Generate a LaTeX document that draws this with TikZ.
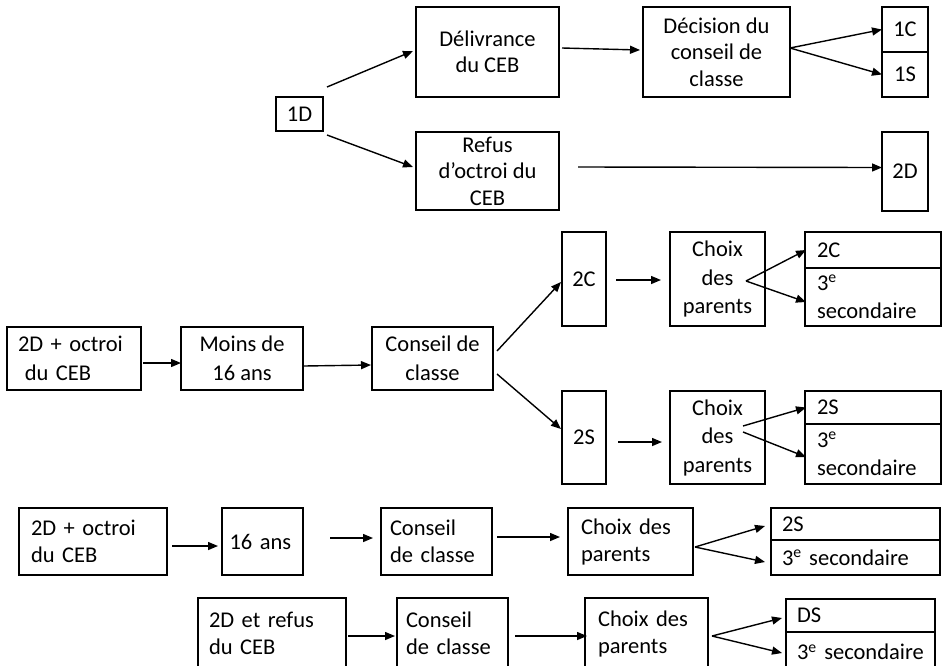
\documentclass[tikz,border=0pt]{standalone}
\usepackage{fontspec}
\setmainfont{Carlito}
\usetikzlibrary{arrows.meta,calc}
\begin{document}
\begin{tikzpicture}[x=1pt,y=-1pt,
  bx/.style={draw, line width=1.1pt, inner sep=0pt, outer sep=0pt, anchor=north west, align=center, font=\fontsize{22.5}{26.5}\selectfont},
  midf/.style={font=\fontsize{22.5}{28.5}\selectfont},
  lowf/.style={font=\fontsize{22.5}{27}\selectfont},
  ar/.style={line width=1.4pt, -{Triangle[length=10pt,width=8pt]}},
  ]
\useasboundingbox (0,0) rectangle (942,665);
\clip (0,0) rectangle (942,665);
% ---------- top section ----------
\node[bx, minimum width=47, minimum height=34] (n1D) at (276,97) {1D};
\node[bx, minimum width=143, minimum height=90] (deliv) at (416,7) {Délivrance\\du CEB};
\node[bx, minimum width=143, minimum height=78] (refus) at (416,132) {Refus\\d’octroi du\\CEB};
\node[bx, minimum width=147, minimum height=90] (decis) at (643,7) {Décision du\\conseil de\\classe};
\node[bx, minimum width=46, minimum height=45] (c1C) at (882,7) {1C};
\node[bx, minimum width=46, minimum height=45] (c1S) at (882,52) {1S};
\node[bx, minimum width=46, minimum height=79] (n2D) at (882,132) {2D};
\draw[ar] ($(n1D.north east)+(4,-10)$) -- ($(deliv.west)+(-3,-1)$);
\draw[ar] ($(n1D.south east)+(4,4)$) -- ($(refus.west)+(-3,-4)$);
\draw[ar] ($(deliv.east)+(3,-4)$) -- ($(decis.west)+(-3,-2)$);
\draw[ar] ($(decis.east)+(0,-4)$) -- (c1C.west);
\draw[ar] ($(decis.east)+(0,-4)$) -- (c1S.west);
\draw[ar] ($(refus.east)+(19,-4)$) -- ($(n2D.west)+(0,-4)$);
% ---------- middle section ----------
\node[bx, midf, align=left, minimum width=134, minimum height=63, text width=112] (a2) at (7,327) {2D + octroi\\\hspace*{0.3em}du CEB};
\node[bx, midf, minimum width=122, minimum height=63] (b2) at (181,327) {Moins de\\16 ans};
\node[bx, midf, minimum width=121, minimum height=63] (cc2) at (372,327) {Conseil de\\classe};
\node[bx, midf, minimum width=44, minimum height=94] (c2C) at (562,232) {2C};
\node[bx, midf, minimum width=44, minimum height=93] (c2S) at (562,391) {2S};
\node[bx, midf, minimum width=95, minimum height=94] (ch1) at (670,232) {Choix\\des\\parents};
\node[bx, midf, minimum width=95, minimum height=93] (ch2) at (670,391) {Choix\\des\\parents};
\node[bx, midf, align=left, minimum width=136, minimum height=36, text width=112] (r1a) at (805,232) {2C};
\node[bx, midf, align=left, minimum width=136, minimum height=58, text width=112] (r1b) at (805,268) {3\textsuperscript{e}\\secondaire};
\node[bx, midf, align=left, minimum width=136, minimum height=33, text width=112] (r2a) at (805,391) {2S};
\node[bx, midf, align=left, minimum width=136, minimum height=60, text width=112] (r2b) at (805,424) {3\textsuperscript{e}\\secondaire};
\draw[ar] ($(a2.east)+(2,4.5)$) -- ($(b2.west)+(0,4.5)$);
\draw[ar] ($(b2.east)+(1,7.5)$) -- ($(cc2.west)+(-1,6.5)$);
\draw[ar] ($(cc2.east)+(4,-7.5)$) -- ($(c2C.west)+(-1,3)$);
\draw[ar] ($(cc2.east)+(4,15.5)$) -- ($(c2S.west)+(-1,-8.5)$);
\draw[ar] ($(c2C.east)+(10,1)$) -- ($(ch1.west)+(-9,1)$);
\draw[ar] ($(c2S.east)+(12,4.5)$) -- ($(ch2.west)+(-8,4.5)$);
\draw[ar] ($(ch1.center)+(28.5,2)$) -- ($(r1a.west)+(1,0)$);
\draw[ar] ($(ch1.center)+(28.5,2)$) -- ($(r1b.west)+(1,5)$);
\draw[ar] ($(ch2.center)+(25.5,-11.5)$) -- ($(r2a.west)+(1,0)$);
\draw[ar] ($(ch2.center)+(25.5,-5.5)$) -- ($(r2b.west)+(1,3)$);
% ---------- third row ----------
\node[bx, lowf, align=left, minimum width=148, minimum height=67, text width=124] (a3) at (19,508) {2D + octroi\\du CEB};
\node[bx, lowf, align=left, minimum width=81, minimum height=67, text width=66] (b3) at (222,508) {16 ans};
\node[bx, lowf, align=left, minimum width=111, minimum height=67, text width=93] (cc3) at (381,508) {Conseil\\de classe};
\node[bx, lowf, align=left, minimum width=125, minimum height=67, text width=99] (d3) at (568,508) {Choix des\\parents};
\node[bx, lowf, align=left, minimum width=169, minimum height=32, text width=147] (e3a) at (771,508) {2S};
\node[bx, lowf, align=left, minimum width=169, minimum height=35, text width=147] (e3b) at (771,540) {3\textsuperscript{e} secondaire};
\draw[ar] ($(a3.east)+(5,4.5)$) -- ($(b3.west)+(-4,4.5)$);
\draw[ar] ($(b3.east)+(27,-3.5)$) -- ($(cc3.west)+(-8,-3.5)$);
\draw[ar] ($(cc3.east)+(5,-4.5)$) -- ($(d3.west)+(-8,-4.5)$);
\draw[ar] ($(d3.east)+(2,5.5)$) -- ($(e3a.west)+(-6,2)$);
\draw[ar] ($(d3.east)+(2,5.5)$) -- ($(e3b.west)+(-6,4.5)$);
% ---------- fourth row ----------
\node[bx, lowf, align=left, minimum width=148, minimum height=71, text width=126] (a4) at (198,598) {2D et refus\\du CEB};
\node[bx, lowf, align=left, minimum width=111, minimum height=71, text width=93] (cc4) at (397,598) {Conseil\\de classe};
\node[bx, lowf, align=left, minimum width=123, minimum height=71, text width=97] (d4) at (585,598) {Choix des\\parents};
\node[bx, lowf, align=left, minimum width=149, minimum height=33, text width=127] (e4a) at (786,599) {DS};
\node[bx, lowf, align=left, minimum width=149, minimum height=40, text width=127] (e4b) at (786,632) {3\textsuperscript{e} secondaire};
\draw[ar] ($(a4.east)+(2,2.5)$) -- ($(cc4.west)+(-2,2.5)$);
\draw[ar] ($(cc4.east)+(7,2.5)$) -- ($(d4.west)+(2,2.5)$);
\draw[ar] ($(d4.east)+(4,2.5)$) -- ($(e4a.west)+(-4,2.5)$);
\draw[ar] ($(d4.east)+(4,2.5)$) -- ($(e4b.west)+(-4,1)$);
\end{tikzpicture}
\end{document}
